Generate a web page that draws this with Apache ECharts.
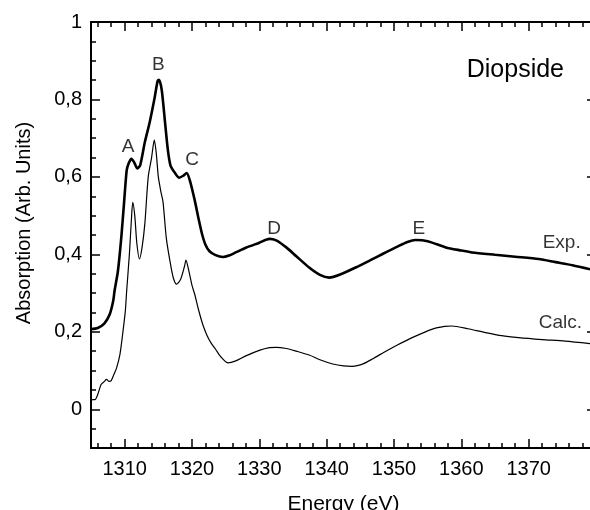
<!DOCTYPE html>
<html lang="en">
<head>
<meta charset="UTF-8">
<title>Diopside</title>
<script src="https://cdn.jsdelivr.net/npm/echarts@6/dist/echarts.min.js"></script>
<style>
  html, body { margin: 0; padding: 0; background: #fff; }
</style>
</head>
<body>
<div id="main" style="width: 590px;height:510px;"></div>

<script type="text/javascript">
  // measured spectra: energy (eV) and absorption
  var expE = [1305.0, 1306.0, 1307.0, 1307.8, 1308.3, 1308.5, 1309.0, 1309.5, 1309.9, 1310.3,
    1310.6, 1311.0, 1311.4, 1311.9, 1312.3, 1313.0, 1313.7, 1314.4, 1314.9, 1315.1,
    1315.5, 1316.0, 1316.4, 1316.8, 1317.4, 1318.1, 1318.7, 1319.2, 1319.7, 1320.4,
    1321.0, 1321.5, 1322.0, 1322.6, 1323.5, 1324.6, 1325.5, 1326.5, 1328.0, 1330.0,
    1331.5, 1332.5, 1334.0, 1335.5, 1337.4, 1339.0, 1340.4, 1342.0, 1344.3, 1346.5,
    1348.3, 1350.5, 1352.0, 1353.2, 1355.0, 1357.7, 1360.0, 1361.6, 1365.0, 1368.0,
    1371.5, 1374.0, 1376.5, 1380.0];
  var expA = [0.207, 0.210, 0.222, 0.246, 0.280, 0.306, 0.357, 0.444, 0.531, 0.617,
    0.635, 0.647, 0.638, 0.622, 0.630, 0.690, 0.740, 0.800, 0.848, 0.851,
    0.825, 0.740, 0.672, 0.630, 0.612, 0.598, 0.603, 0.610, 0.590, 0.540,
    0.490, 0.452, 0.425, 0.408, 0.398, 0.393, 0.397, 0.405, 0.417, 0.430,
    0.440, 0.436, 0.418, 0.395, 0.366, 0.347, 0.340, 0.348, 0.366, 0.385,
    0.401, 0.420, 0.432, 0.437, 0.434, 0.418, 0.410, 0.405, 0.399, 0.394,
    0.388, 0.380, 0.372, 0.358];

  var calcE = [1304.8, 1305.3, 1305.6, 1306.0, 1306.5, 1307.0, 1307.3, 1307.7, 1308.0, 1308.4,
    1308.8, 1309.3, 1309.7, 1310.1, 1310.3, 1310.7, 1311.0, 1311.2, 1311.5, 1311.8,
    1312.2, 1312.6, 1313.0, 1313.5, 1314.0, 1314.4, 1314.7, 1315.0, 1315.4, 1315.7,
    1316.2, 1316.9, 1317.3, 1317.7, 1318.3, 1318.9, 1319.1, 1319.5, 1320.0, 1320.4,
    1321.0, 1321.6, 1322.2, 1322.8, 1323.5, 1324.3, 1325.3, 1326.5, 1328.0, 1330.0,
    1331.5, 1332.5, 1334.0, 1335.5, 1337.4, 1339.0, 1340.9, 1342.5, 1343.8, 1345.5,
    1347.0, 1348.8, 1350.5, 1352.7, 1355.7, 1357.5, 1358.6, 1361.0, 1363.6, 1366.0,
    1368.5, 1372.0, 1375.4, 1380.0];
  var calcA = [0.021, 0.025, 0.025, 0.038, 0.064, 0.072, 0.077, 0.072, 0.074, 0.090,
    0.107, 0.142, 0.194, 0.254, 0.306, 0.400, 0.490, 0.534, 0.500, 0.430,
    0.388, 0.420, 0.480, 0.600, 0.650, 0.696, 0.660, 0.600, 0.560, 0.535,
    0.440, 0.366, 0.335, 0.323, 0.335, 0.370, 0.385, 0.360, 0.320, 0.297,
    0.255, 0.219, 0.192, 0.172, 0.155, 0.135, 0.120, 0.125, 0.138, 0.152,
    0.159, 0.160, 0.157, 0.150, 0.140, 0.128, 0.117, 0.112, 0.111, 0.118,
    0.132, 0.150, 0.166, 0.185, 0.207, 0.214, 0.215, 0.208, 0.198, 0.190,
    0.185, 0.180, 0.176, 0.168];

  // peak letters and curve tags, placed in data coordinates
  var tagNames = ['A', 'B', 'C', 'D', 'E', 'Exp.', 'Calc.'];
  var tagE = [1310.5, 1315.0, 1320.0, 1332.2, 1353.7, 1374.9, 1374.7];
  var tagA = [0.677, 0.889, 0.644, 0.467, 0.467, 0.430, 0.223];

  // axis ticks
  var xTicks = [1310, 1320, 1330, 1340, 1350, 1360, 1370];
  var xMinor = [1306, 1308, 1312, 1314, 1316, 1318, 1322, 1324, 1326, 1328, 1332, 1334, 1336, 1338,
    1342, 1344, 1346, 1348, 1352, 1354, 1356, 1358, 1362, 1364, 1366, 1368, 1372, 1374, 1376, 1378];
  var yTicks = [0, 0.2, 0.4, 0.6, 0.8, 1];
  var yMinor = [-0.05, 0.05, 0.1, 0.15, 0.25, 0.3, 0.35, 0.45, 0.5, 0.55, 0.65, 0.7, 0.75, 0.85, 0.9, 0.95];

  var FONT = 'Liberation Sans, Arial, Helvetica, sans-serif';
  var X_MIN = 1305, X_MAX = 1380, Y_MIN = -0.1, Y_MAX = 1;

  function zip(xs, ys) {
    var out = [];
    for (var i = 0; i < xs.length; i++) out.push([xs[i], ys[i]]);
    return out;
  }

  // one helper for the frame axes: main (labels + long ticks) or minor (short ticks only)
  function xAx(pos, ticks, len, main) {
    return {
      type: 'value', position: pos, min: X_MIN, max: X_MAX,
      axisLine: { show: main, onZero: false, lineStyle: { color: '#000', width: 2 } },
      axisTick: { show: true, inside: true, length: len, customValues: ticks, lineStyle: { color: '#000', width: 1.5 } },
      axisLabel: main && pos === 'bottom'
        ? { show: true, customValues: xTicks, color: '#000', fontSize: 20, fontFamily: FONT, margin: 11,
            formatter: function (v) { return String(v); } }
        : { show: false },
      splitLine: { show: false },
      name: main && pos === 'bottom' ? 'Energy (eV)' : '',
      nameLocation: 'middle', nameGap: 46,
      nameTextStyle: { color: '#000', fontSize: 21, fontFamily: FONT }
    };
  }
  function yAx(pos, ticks, len, main) {
    return {
      type: 'value', position: pos, min: Y_MIN, max: Y_MAX,
      axisLine: { show: main, onZero: false, lineStyle: { color: '#000', width: 2 } },
      axisTick: { show: true, inside: true, length: len, customValues: ticks, lineStyle: { color: '#000', width: 1.5 } },
      axisLabel: main && pos === 'left'
        ? { show: true, customValues: yTicks, color: '#000', fontSize: 20, fontFamily: FONT, margin: 9,
            formatter: function (v) { return String(Math.round(v * 10) / 10).replace('.', ','); } }
        : { show: false },
      splitLine: { show: false },
      name: main && pos === 'left' ? 'Absorption (Arb. Units)' : '',
      nameLocation: 'middle', nameGap: 57,
      nameTextStyle: { color: '#000', fontSize: 20, fontFamily: FONT, padding: [0, 0, 0, 24] }
    };
  }

  var myChart = echarts.init(document.getElementById('main'));

  var option = {
    animation: false,
    backgroundColor: '#fff',
    title: {
      text: 'Diopside', right: 21, top: 53,
      textStyle: { color: '#000', fontSize: 25, fontWeight: 'normal', fontFamily: FONT }
    },
    grid: { left: 91, top: 22, right: -6, bottom: 62, outerBoundsMode: 'none', containLabel: false },
    xAxis: [
      xAx('bottom', xTicks, 9, true),
      xAx('bottom', xMinor, 5, false),
      xAx('top', xTicks, 9, true),
      xAx('top', xMinor, 5, false)
    ],
    yAxis: [
      yAx('left', yTicks, 9, true),
      yAx('left', yMinor, 5, false),
      yAx('right', yTicks, 9, true),
      yAx('right', yMinor, 5, false)
    ],
    series: [
      {
        name: 'Exp.', type: 'line', data: zip(expE, expA),
        showSymbol: false, smooth: 0.25,
        lineStyle: { color: '#000', width: 2.6 }
      },
      {
        name: 'Calc.', type: 'line', data: zip(calcE, calcA),
        showSymbol: false, smooth: 0.25,
        lineStyle: { color: '#000', width: 1.2 }
      },
      {
        name: 'tags', type: 'scatter', symbolSize: 0,
        data: tagNames.map(function (n, i) { return { name: n, value: [tagE[i], tagA[i]] }; }),
        label: {
          show: true, position: 'inside', formatter: '{b}',
          color: '#000', fontSize: 19, fontFamily: FONT
        },
        silent: true
      }
    ]
  };

  myChart.setOption(option);
</script>
</body>
</html>
